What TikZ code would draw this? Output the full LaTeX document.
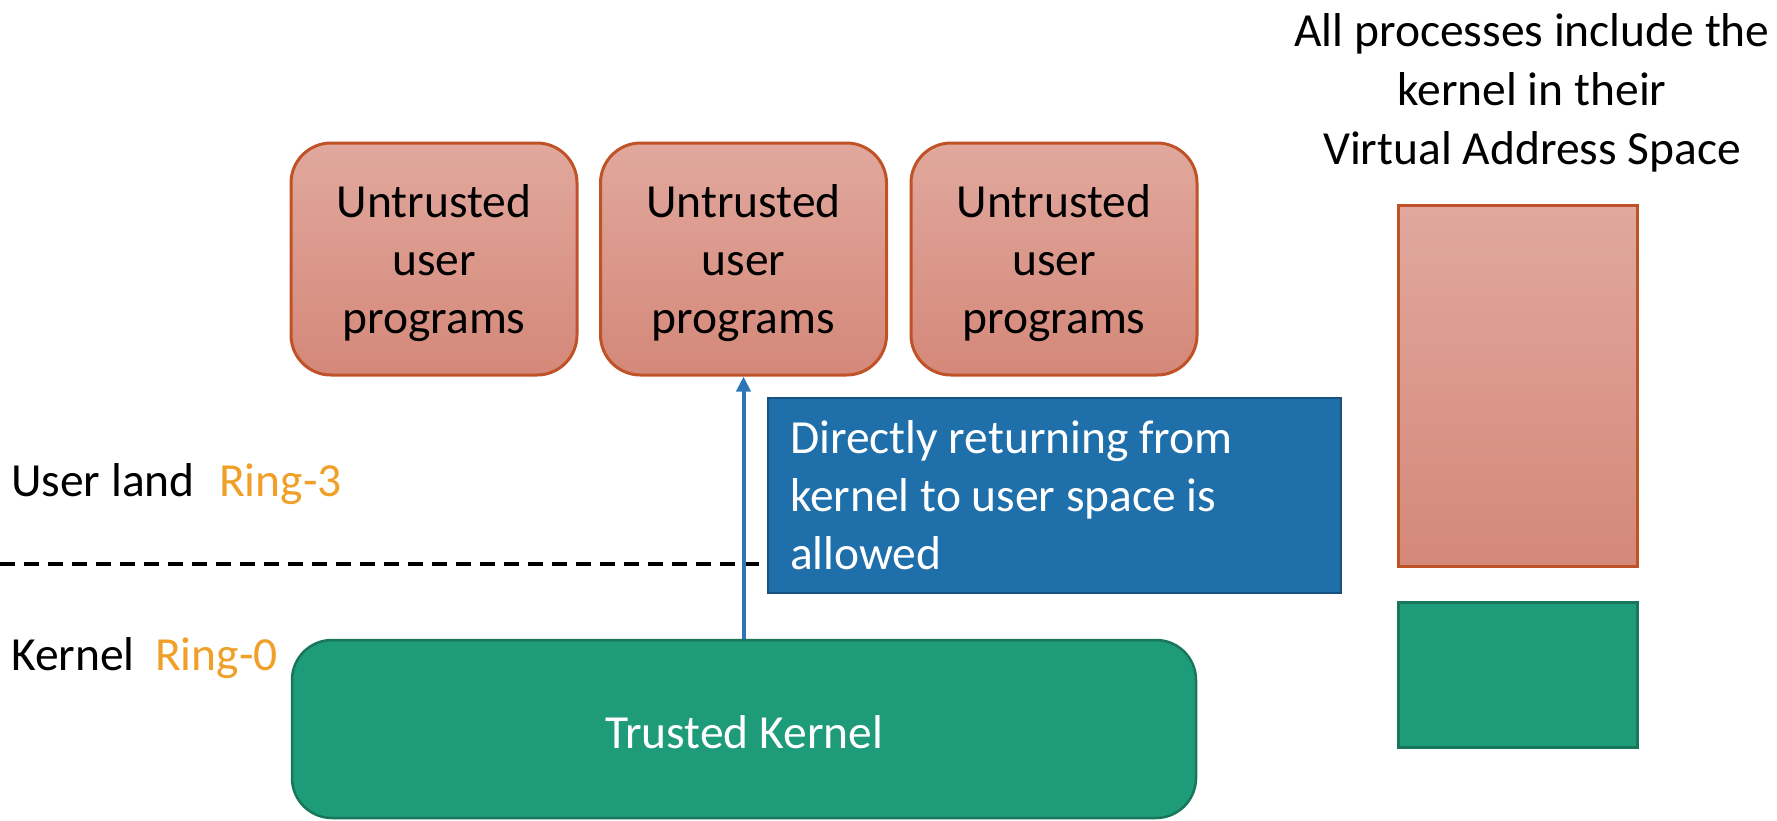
\documentclass[tikz,border=0pt]{standalone}
\usepackage{fontspec}
\setmainfont{Carlito}
\usetikzlibrary{arrows.meta}
\definecolor{pinktop}{RGB}{225,168,157}
\definecolor{pinkbot}{RGB}{212,136,121}
\definecolor{pinkborder}{RGB}{192,82,40}
\definecolor{kgreen}{RGB}{30,155,121}
\definecolor{kgreenborder}{RGB}{24,118,90}
\definecolor{bluefill}{RGB}{31,111,170}
\definecolor{blueborder}{RGB}{24,82,128}
\definecolor{arrowblue}{RGB}{46,117,182}
\definecolor{ringorange}{RGB}{240,160,40}
\tikzset{
  txt/.style={font=\fontsize{47.5}{58}\selectfont, inner sep=0pt},
  ubox/.style={txt, align=center, draw=pinkborder, line width=3pt, rounded corners=40pt,
     top color=pinktop, bottom color=pinkbot, minimum width=286pt, minimum height=232pt,
     execute at begin node={\rule{0pt}{158pt}}},
  kbox/.style={txt, align=center, draw=kgreenborder, line width=2.5pt, rounded corners=40pt,
     fill=kgreen, text=white, minimum width=904pt, minimum height=178pt,
     execute at begin node={\rule{0pt}{40pt}}},
  notebox/.style={txt, align=flush left, draw=blueborder, line width=2.5pt, fill=bluefill, text=white,
     minimum width=573pt, minimum height=195pt, text width=529pt},
  vaspink/.style={draw=pinkborder, line width=3pt, top color=pinktop, bottom color=pinkbot,
     minimum width=239pt, minimum height=361pt, inner sep=0pt},
  vasgreen/.style={draw=kgreenborder, line width=3pt, fill=kgreen,
     minimum width=239pt, minimum height=145pt, inner sep=0pt},
  ring/.style={txt, text=ringorange},
  divider/.style={dash pattern=on 15pt off 9pt, line width=3.5pt},
  retarrow/.style={draw=arrowblue, line width=4pt, -{Triangle[length=15pt,width=14pt]}}
}
\begin{document}
\begin{tikzpicture}[x=1pt,y=-1pt]
\useasboundingbox (0,0) rectangle (1777,820);
\fill[white] (0,0) rectangle (1777,820);

% dashed divider (behind)
\coordinate (dl) at (0,564);

% user program boxes
\node[ubox] (u1) at (434,259) {Untrusted\\user\\programs};
\node[ubox] (u2) at (743.5,259) {Untrusted\\user\\programs};
\node[ubox] (u3) at (1054,259) {Untrusted\\user\\programs};

% kernel
\node[kbox] (kern) at (744,729) {Trusted Kernel};

% note box
\node[notebox] (note) at (1054.5,495.5) {Directly returning from\\kernel to user space is\\allowed};

\draw[divider] (dl) -- (dl -| note.west);

% arrow
\draw[retarrow] (kern.north -| u2.south) -- (u2.south);

% labels
\node[txt, anchor=base west] (ul) at (11,496) {User land};
\node[ring, anchor=base west] (r3) at (219,496) {Ring-3};
\node[txt, anchor=base west] (kl) at (11,670) {Kernel};
\node[ring, anchor=base west] (r0) at (155,670) {Ring-0};

% virtual address space
\node[txt, align=center, font=\fontsize{47.5}{59}\selectfont] (title) at (1532,93) {All processes include the\\kernel in their\\Virtual Address Space};
\node[vaspink] (vu) at (1517.5,385.5) {};
\node[vasgreen] (vk) at (1517.5,674.5) {};
\end{tikzpicture}
\end{document}
